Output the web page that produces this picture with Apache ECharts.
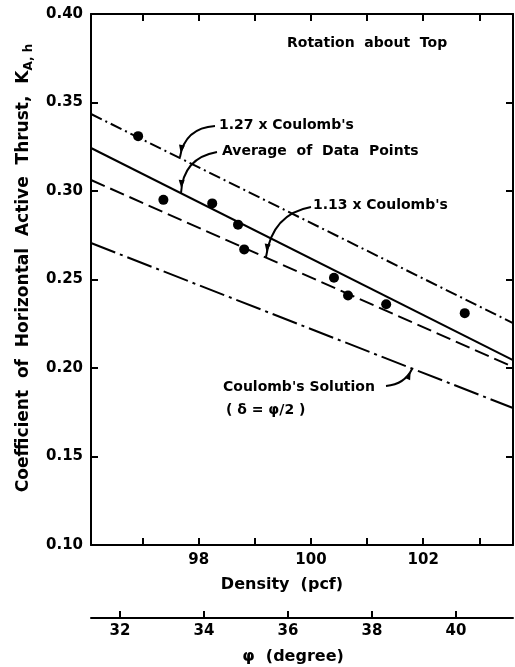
<!DOCTYPE html>
<html>
<head>
<meta charset="utf-8">
<script src="https://cdn.jsdelivr.net/npm/echarts@6/dist/echarts.min.js"></script>
<style>
html,body{margin:0;padding:0;background:#fff;}
#main{width:515px;height:667px;}
</style>
</head>
<body>
<div id="main"></div>
<script>
// density (pcf) range of the plot and the fitted lines at both ends
var densityEnds = [96.08, 103.6];
var line127 = [0.3435, 0.2254];   // 1.27 x Coulomb's
var lineAvg = [0.3243, 0.2045];   // Average of Data Points
var line113 = [0.3062, 0.2006];   // 1.13 x Coulomb's
var lineCoul = [0.2706, 0.1774];  // Coulomb's Solution

// measured points
var ptDensity = [96.92, 97.37, 98.24, 98.7, 98.81, 100.41, 100.66, 101.34, 102.74];
var ptK = [0.331, 0.295, 0.293, 0.281, 0.267, 0.251, 0.241, 0.236, 0.231];

// tick values
var densityTicks = [97, 98, 99, 100, 101, 102, 103];
var densityLabels = [98, 100, 102];
var phiEnds = [31.31, 41.36];
var phiTicks = [32, 34, 36, 38, 40];

function pairs(xs, ys) {
  var out = [];
  for (var i = 0; i < xs.length; i++) out.push([xs[i], ys[i]]);
  return out;
}

var fnt = 'DejaVu Sans';
var lbl = {fontFamily: fnt, fontWeight: 'bold', fontSize: 15, color: '#000'};
var axLine = {lineStyle: {color: '#000', width: 2}};
var note = {fontFamily: fnt, fontWeight: 'bold', fontSize: 14, fill: '#000', verticalAlign: 'middle'};

var myChart = echarts.init(document.getElementById('main'));
var option = {
  backgroundColor: '#fff',
  animation: false,
  grid: {left: 91, right: 2, top: 14, bottom: 122},
  xAxis: [
    {
      type: 'value', position: 'bottom',
      min: densityEnds[0], max: densityEnds[1],
      axisLine: axLine,
      axisTick: {inside: true, length: 7, customValues: densityTicks, lineStyle: {color: '#000', width: 2}},
      axisLabel: Object.assign({margin: 8, customValues: densityLabels}, lbl),
      splitLine: {show: false}
    },
    {
      type: 'value', position: 'top',
      min: densityEnds[0], max: densityEnds[1],
      axisLine: axLine,
      axisTick: {inside: true, length: 7, customValues: densityTicks, lineStyle: {color: '#000', width: 2}},
      axisLabel: {show: false},
      splitLine: {show: false}
    },
    {
      type: 'value', position: 'bottom', offset: 73,
      min: phiEnds[0], max: phiEnds[1],
      axisLine: axLine,
      axisTick: {inside: true, length: 7, customValues: phiTicks, lineStyle: {color: '#000', width: 2}},
      axisLabel: Object.assign({margin: 6, customValues: phiTicks}, lbl),
      splitLine: {show: false}
    }
  ],
  yAxis: [
    {
      type: 'value', position: 'left',
      min: 0.1, max: 0.4, interval: 0.05,
      axisLine: {show: true, lineStyle: {color: '#000', width: 2}},
      axisTick: {show: true, inside: true, length: 7, lineStyle: {color: '#000', width: 2}},
      axisLabel: Object.assign({margin: 8, formatter: function (v) { return v.toFixed(2); }}, lbl),
      splitLine: {show: false}
    },
    {
      type: 'value', position: 'right',
      min: 0.1, max: 0.4, interval: 0.05,
      axisLine: {show: true, lineStyle: {color: '#000', width: 2}},
      axisTick: {show: true, inside: true, length: 7, lineStyle: {color: '#000', width: 2}},
      axisLabel: {show: false},
      splitLine: {show: false}
    }
  ],
  series: [
    {
      name: '1.27 x Coulomb\'s', type: 'line', symbol: 'none',
      data: pairs(densityEnds, line127),
      lineStyle: {color: '#000', width: 2, type: [12, 4, 2, 4]}
    },
    {
      name: 'Average of Data Points', type: 'line', symbol: 'none',
      data: pairs(densityEnds, lineAvg),
      lineStyle: {color: '#000', width: 2}
    },
    {
      name: '1.13 x Coulomb\'s', type: 'line', symbol: 'none',
      data: pairs(densityEnds, line113),
      lineStyle: {color: '#000', width: 2, type: [15, 6]}
    },
    {
      name: 'Coulomb\'s Solution', type: 'line', symbol: 'none',
      data: pairs(densityEnds, lineCoul),
      lineStyle: {color: '#000', width: 2, type: [26, 5, 3, 5]}
    },
    {
      name: 'data', type: 'scatter', symbol: 'circle', symbolSize: 10,
      data: pairs(ptDensity, ptK),
      itemStyle: {color: '#000', opacity: 1}
    }
  ],
  graphic: [
    // axis titles
    {type: 'text', x: 24, y: 268, rotation: Math.PI / 2, style: {
      text: 'Coefficient  of  Horizontal  Active  Thrust,  K{s|A, h}',
      rich: {s: {fontFamily: fnt, fontWeight: 'bold', fontSize: 12, padding: [9, 0, 0, 0]}},
      fontFamily: fnt, fontWeight: 'bold', fontSize: 17, fill: '#000',
      align: 'center', verticalAlign: 'middle'}},
    {type: 'text', x: 282, y: 585, style: {text: 'Density  (pcf)', fontFamily: fnt, fontWeight: 'bold', fontSize: 16, fill: '#000', align: 'center', verticalAlign: 'middle'}},
    {type: 'text', x: 293, y: 657, style: {text: 'φ  (degree)', fontFamily: fnt, fontWeight: 'bold', fontSize: 16, fill: '#000', align: 'center', verticalAlign: 'middle'}},
    // annotations
    {type: 'text', x: 287, y: 43, style: Object.assign({text: 'Rotation  about  Top'}, note)},
    {type: 'text', x: 219, y: 125, style: Object.assign({text: '1.27 x Coulomb\'s'}, note)},
    {type: 'text', x: 222, y: 151, style: Object.assign({text: 'Average  of  Data  Points'}, note)},
    {type: 'text', x: 313, y: 205, style: Object.assign({text: '1.13 x Coulomb\'s'}, note)},
    {type: 'text', x: 223, y: 387, style: Object.assign({text: 'Coulomb\'s Solution'}, note)},
    {type: 'text', x: 226, y: 410, style: Object.assign({text: '( δ = φ/2 )'}, note)},
    // pointer arrows
    {type: 'bezierCurve', shape: {x1: 215, y1: 126, cpx1: 185, cpy1: 128, x2: 180, y2: 157}, style: {stroke: '#000', lineWidth: 2, fill: null}},
    {type: 'polygon', shape: {points: [[180.7, 153], [185, 145.5], [179, 144.5]]}, style: {fill: '#000'}},
    {type: 'bezierCurve', shape: {x1: 217, y1: 152, cpx1: 183, cpy1: 158, x2: 181, y2: 193}, style: {stroke: '#000', lineWidth: 2, fill: null}},
    {type: 'polygon', shape: {points: [[181.2, 188], [184.7, 180.2], [178.7, 179.8]]}, style: {fill: '#000'}},
    {type: 'bezierCurve', shape: {x1: 311, y1: 207, cpx1: 272, cpy1: 214, x2: 266, y2: 257}, style: {stroke: '#000', lineWidth: 2, fill: null}},
    {type: 'polygon', shape: {points: [[266.6, 252], [270.7, 244.4], [264.7, 243.6]]}, style: {fill: '#000'}},
    {type: 'bezierCurve', shape: {x1: 386, y1: 386, cpx1: 405, cpy1: 384, x2: 412, y2: 369}, style: {stroke: '#000', lineWidth: 2, fill: null}},
    {type: 'polygon', shape: {points: [[410.7, 371.7], [410.1, 380.3], [404.7, 377.7]]}, style: {fill: '#000'}}
  ]
};
myChart.setOption(option);
</script>
</body>
</html>
